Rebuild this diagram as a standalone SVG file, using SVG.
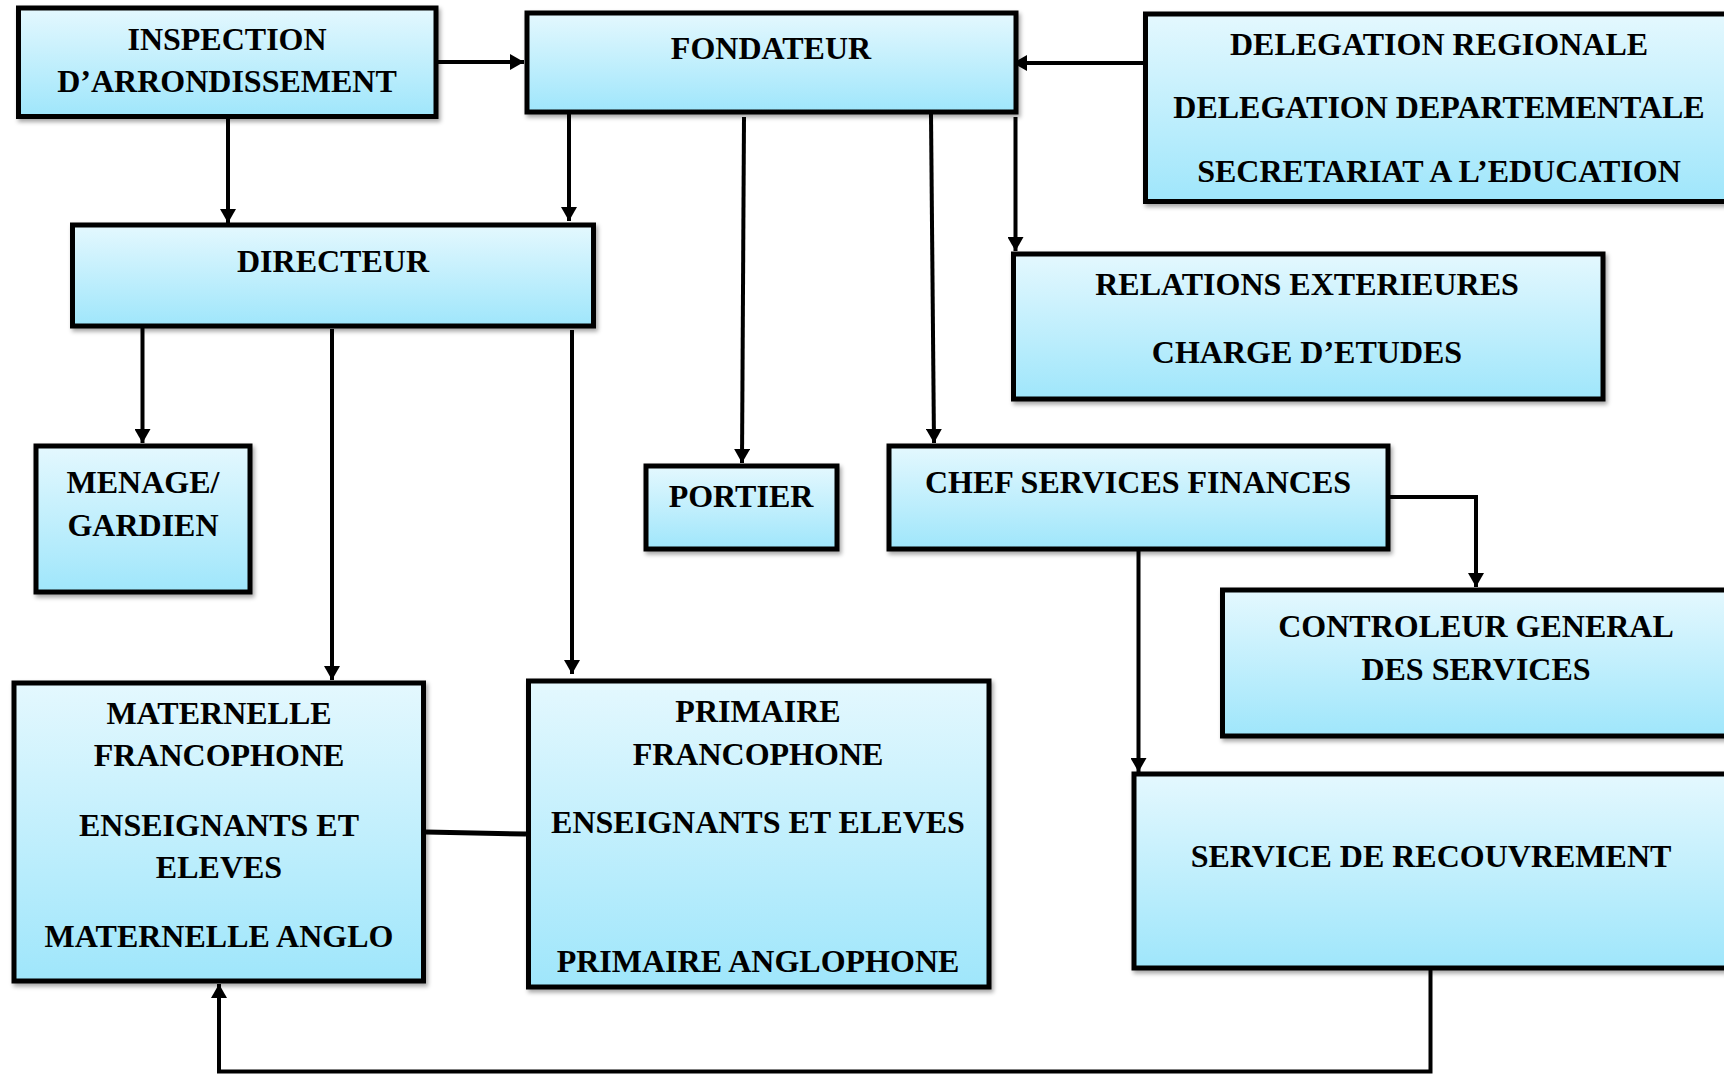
<svg xmlns="http://www.w3.org/2000/svg" width="1724" height="1074" viewBox="0 0 1724 1074">
<style>
.box{fill:url(#g);stroke:#000;stroke-width:5;filter:url(#sh)}
.t{font-family:"Liberation Serif","Times New Roman",serif;font-weight:bold;font-size:32px;fill:#000;text-anchor:middle}
.c{fill:none;stroke:#000;stroke-width:4}
.a{marker-end:url(#ah)}
</style>
<defs>
<linearGradient id="g" x1="0" y1="0" x2="0" y2="1">
<stop offset="0" stop-color="#e4f8fe"/>
<stop offset="1" stop-color="#9fe6fb"/>
</linearGradient>
<filter id="sh" x="-5%" y="-5%" width="115%" height="120%">
<feDropShadow dx="2" dy="3" stdDeviation="2" flood-color="#000" flood-opacity="0.35"/>
</filter>
<marker id="ah" viewBox="0 0 14 16" refX="14" refY="8" markerWidth="14" markerHeight="16" markerUnits="userSpaceOnUse" orient="auto">
<path d="M0,0 L14,8 L0,16 z" fill="#000"/>
</marker>
</defs>
<rect width="1724" height="1074" fill="#fff"/>

<g id="connectors">
<path class="c a" d="M438,62 L524,62"/>
<path class="c a" d="M1143,63 L1013,63"/>
<path class="c a" d="M228,119 L228,223"/>
<path class="c a" d="M569,114 L569,221"/>
<path class="c a" d="M744,117 L742,463"/>
<path class="c a" d="M931,114 L934,443"/>
<path class="c a" d="M1015.5,117 L1015.5,251"/>
<path class="c a" d="M142.5,328 L142.5,443"/>
<path class="c a" d="M332,329 L332,680"/>
<path class="c a" d="M572,330 L572,674"/>
<path class="c a" d="M1390,497 L1476,497 L1476,587"/>
<path class="c a" d="M1138.5,551 L1138.5,772"/>
<path class="c" style="stroke-width:5" d="M426,832 L526,834"/>
<path class="c a" d="M1430.5,970 L1430.5,1071.5 L219,1071.5 L219,984"/>
</g>

<g id="inspection">
<rect class="box" x="18.5" y="8" width="417.5" height="108.5"/>
<text class="t" x="227" y="50">INSPECTION</text>
<text class="t" x="227" y="92">D’ARRONDISSEMENT</text>
</g>

<g id="fondateur">
<rect class="box" x="527" y="13" width="489" height="99"/>
<text class="t" x="771" y="59">FONDATEUR</text>
</g>

<g id="delegation">
<rect class="box" x="1145.5" y="14" width="600" height="187.5"/>
<text class="t" x="1439" y="55">DELEGATION REGIONALE</text>
<text class="t" x="1439" y="118">DELEGATION DEPARTEMENTALE</text>
<text class="t" x="1439" y="182">SECRETARIAT A L’EDUCATION</text>
</g>

<g id="directeur">
<rect class="box" x="72.5" y="225" width="521" height="101"/>
<text class="t" x="333" y="272">DIRECTEUR</text>
</g>

<g id="relations">
<rect class="box" x="1013.5" y="254" width="589.5" height="145"/>
<text class="t" x="1307" y="295">RELATIONS EXTERIEURES</text>
<text class="t" x="1307" y="363">CHARGE D’ETUDES</text>
</g>

<g id="menage">
<rect class="box" x="36" y="446" width="214" height="146"/>
<text class="t" x="143" y="493">MENAGE/</text>
<text class="t" x="143" y="536">GARDIEN</text>
</g>

<g id="portier">
<rect class="box" x="646" y="466" width="191" height="83"/>
<text class="t" x="741" y="507">PORTIER</text>
</g>

<g id="chef-finances">
<rect class="box" x="889" y="446" width="499" height="103"/>
<text class="t" x="1138" y="493">CHEF SERVICES FINANCES</text>
</g>

<g id="controleur">
<rect class="box" x="1222.5" y="590" width="520" height="146"/>
<text class="t" x="1476" y="637">CONTROLEUR GENERAL</text>
<text class="t" x="1476" y="680">DES SERVICES</text>
</g>

<g id="recouvrement">
<rect class="box" x="1134" y="774" width="610" height="194"/>
<text class="t" x="1431" y="867">SERVICE DE RECOUVREMENT</text>
</g>

<g id="maternelle">
<rect class="box" x="14" y="683" width="409.5" height="298"/>
<text class="t" x="219" y="724">MATERNELLE</text>
<text class="t" x="219" y="766">FRANCOPHONE</text>
<text class="t" x="219" y="836">ENSEIGNANTS ET</text>
<text class="t" x="219" y="878">ELEVES</text>
<text class="t" x="219" y="947">MATERNELLE ANGLO</text>
</g>

<g id="primaire">
<rect class="box" x="528.5" y="681" width="460.5" height="306"/>
<text class="t" x="758" y="722">PRIMAIRE</text>
<text class="t" x="758" y="765">FRANCOPHONE</text>
<text class="t" x="758" y="833">ENSEIGNANTS ET ELEVES</text>
<text class="t" x="758" y="972">PRIMAIRE ANGLOPHONE</text>
</g>
</svg>
